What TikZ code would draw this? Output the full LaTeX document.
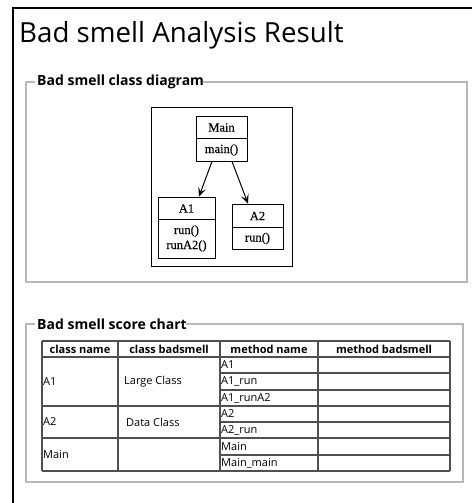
\documentclass[tikz,border=0pt]{standalone}
\usepackage{fontspec}
\setmainfont{Open Sans}
\newfontfamily\umlfont[FakeBold=0.4]{Liberation Serif}
\usetikzlibrary{arrows.meta}
\definecolor{fsgray}{HTML}{B8B8B8}
\definecolor{tblgray}{HTML}{505050}
\begin{document}
\begin{tikzpicture}[x=1pt,y=-1pt,
  fieldset/.style={draw=fsgray,line width=1.5pt},
  legend/.style={anchor=west,inner sep=0pt,font=\fontsize{14}{16}\selectfont\bfseries},
  umlbox/.style={draw,line width=0.9pt,inner sep=0pt},
  umltext/.style={inner sep=0pt,font=\umlfont\fontsize{12.5}{15}\selectfont},
  dep/.style={draw,line width=1pt,-{Stealth[length=9pt,width=8pt,inset=4pt]}},
  grid/.style={draw=tblgray,line width=1.5pt},
  head/.style={inner sep=0pt,font=\fontsize{11}{13}\selectfont\bfseries},
  cell/.style={anchor=west,inner sep=0pt,font=\fontsize{11}{13}\selectfont},
]
\useasboundingbox (0,0) rectangle (471,503);

% page frame
\draw[line width=2pt] (13,510) -- (13,8) -- (480,8);
\node[anchor=base west,inner sep=0pt,font=\fontsize{27.7}{34}\selectfont] (title) at (19,43) {Bad smell Analysis Result};

% ---- class diagram fieldset
\draw[fieldset] (35,82) -- (26,82) -- (26,282) -- (467,282) -- (467,82) -- (203,82);
\node[legend] (lg1) at (37,82) {Bad smell class diagram};

\draw[line width=0.9pt] (151,107) rectangle (292,266);

\node[umlbox,minimum width=51pt,minimum height=45pt] (main) at (221.5,138.5) {};
\draw[line width=0.9pt] (196,138) -- (247,138);
\node[umltext] (mainname) at (221.5,127.5) {Main};
\node[umltext] (mainop) at (221.5,150) {main()};

\node[umlbox,minimum width=57pt,minimum height=61pt] (a1) at (186.5,227.5) {};
\draw[line width=0.9pt] (158,219) -- (215,219);
\node[umltext] (a1name) at (186.5,208.5) {A1};
\node[umltext] (a1run) at (186.5,231) {run()};
\node[umltext] (a1runa2) at (186.5,246) {runA2()};

\node[umlbox,minimum width=51pt,minimum height=45pt] (a2) at (257.5,226.5) {};
\draw[line width=0.9pt] (232,227) -- (283,227);
\node[umltext] (a2name) at (257.5,216) {A2};
\node[umltext] (a2op) at (257.5,238.5) {run()};

\draw[dep] ([xshift=-9.5pt]main.south) -- ([xshift=12.5pt]a1.north);
\draw[dep] ([xshift=10.5pt]main.south) -- ([xshift=-9.5pt]a2.north);

% ---- score chart fieldset
\draw[fieldset] (35,324) -- (26,324) -- (26,482) -- (463,482) -- (463,324) -- (186,324);
\node[legend] (lg2) at (37,324) {Bad smell score chart};

% table rules
\foreach \y in {341,357,406,438,471} \draw[grid] (42,\y) -- (450,\y);
\foreach \y in {373,390,422,455} \draw[grid] (220,\y) -- (450,\y);
\foreach \x in {42,118,220,318,450} \draw[grid] (\x,341) -- (\x,471);

% header
\node[head] (h1) at (80,349) {class name};
\node[head] (h2) at (169,349) {class badsmell};
\node[head] (h3) at (269,349) {method name};
\node[head] (h4) at (384,349) {method badsmell};

% body
\node[cell] (c1) at (43,381.5) {A1};
\node[cell] (b1) at (124,381.5) {Large Class};
\node[cell] (c2) at (43,422) {A2};
\node[cell] (b2) at (126,422) {Data Class};
\node[cell] (c3) at (43,454.5) {Main};

\node[cell] (m1) at (221,365) {A1};
\node[cell] (m2) at (221,381.5) {A1\_run};
\node[cell] (m3) at (221,398) {A1\_runA2};
\node[cell] (m4) at (221,414) {A2};
\node[cell] (m5) at (221,430) {A2\_run};
\node[cell] (m6) at (221,446.5) {Main};
\node[cell] (m7) at (221,463) {Main\_main};
\end{tikzpicture}
\end{document}
